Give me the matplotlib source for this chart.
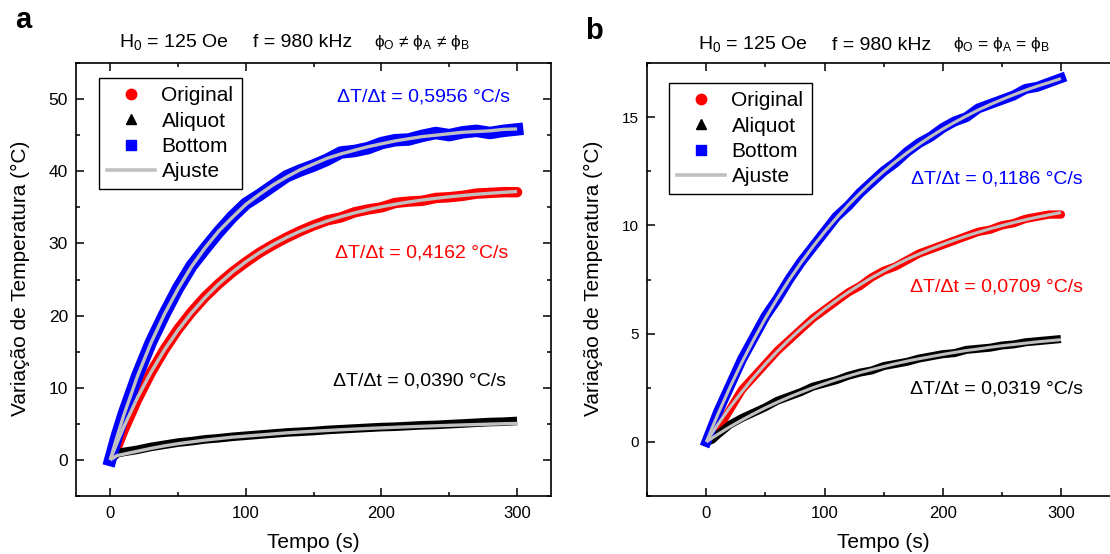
import matplotlib
matplotlib.use('Agg')
import matplotlib.pyplot as plt
from matplotlib.lines import Line2D
from matplotlib.ticker import MultipleLocator

# --- fonte ---
plt.rcParams['font.family'] = ['Liberation Sans', 'DejaVu Sans']
plt.rcParams['mathtext.fontset'] = 'custom'
plt.rcParams['mathtext.rm'] = 'Liberation Sans'
plt.rcParams['mathtext.it'] = 'Liberation Sans:italic'
plt.rcParams['mathtext.bf'] = 'Liberation Sans:bold'

# --- dados ---
tempo = [0, 5, 10, 20, 30, 40, 50, 60, 70, 80, 90, 100, 110, 120, 130, 140, 150,
         160, 170, 180, 190, 200, 210, 220, 230, 240, 250, 260, 270, 280, 290, 300]

# painel a: phi_O != phi_A != phi_B
a_original = [0, 1.8, 4.2, 8.4, 12.1, 15.3, 18.1, 20.5, 22.6, 24.4, 26.0, 27.4, 28.7, 29.8,
              30.8, 31.7, 32.5, 33.2, 33.6, 34.3, 34.7, 35.0, 35.6, 35.8, 35.9, 36.3, 36.4,
              36.6, 36.9, 37.0, 37.1, 37.1]
a_aliquot = [0, 0.9, 1.1, 1.4, 1.8, 2.1, 2.4, 2.6, 2.85, 3.0, 3.2, 3.35, 3.5, 3.65, 3.8, 3.9,
             4.0, 4.15, 4.25, 4.35, 4.45, 4.55, 4.6, 4.7, 4.8, 4.85, 4.95, 5.05, 5.15, 5.25,
             5.3, 5.4]
a_bottom = [0, 3.4, 6.4, 11.7, 16.3, 20.2, 23.8, 26.9, 29.3, 31.6, 33.7, 35.5, 36.7, 38.0,
            39.3, 40.1, 40.8, 41.6, 42.6, 42.8, 43.2, 43.9, 44.3, 44.4, 44.9, 45.3, 45.0,
            45.4, 45.6, 45.3, 45.6, 45.8]
a_fit_original = [0, 2.36, 4.57, 8.60, 12.13, 15.25, 17.98, 20.39, 22.51, 24.38, 26.01, 27.46,
                  28.72, 29.84, 30.82, 31.69, 32.45, 33.11, 33.70, 34.22, 34.68, 35.08, 35.43,
                  35.74, 36.01, 36.25, 36.46, 36.64, 36.81, 36.95, 37.08, 37.19]
a_fit_aliquot = [0, 0.6, 0.8, 1.2, 1.6, 1.95, 2.25, 2.5, 2.75, 2.95, 3.15, 3.3, 3.45, 3.6, 3.75,
                 3.87, 3.98, 4.08, 4.18, 4.27, 4.36, 4.44, 4.52, 4.59, 4.66, 4.73, 4.79, 4.85,
                 4.9, 4.96, 5.01, 5.06]
a_fit_bottom = [0, 3.2, 6.19, 11.56, 16.2, 20.2, 23.7, 26.8, 29.4, 31.7, 33.6, 35.4, 36.8, 38.1,
                39.2, 40.2, 41.0, 41.8, 42.4, 42.9, 43.4, 43.8, 44.2, 44.5, 44.8, 45.0, 45.2,
                45.4, 45.5, 45.6, 45.8, 45.86]

# painel b: phi_O = phi_A = phi_B
b_original = [0, 0.2, 0.6, 1.5, 2.4, 3.0, 3.6, 4.2, 4.7, 5.2, 5.7, 6.1, 6.5, 6.9, 7.2, 7.6,
              7.9, 8.1, 8.4, 8.7, 8.9, 9.1, 9.3, 9.5, 9.7, 9.8, 10.0, 10.1, 10.3, 10.4, 10.5,
              10.5]
b_aliquot = [0, 0.1, 0.35, 0.8, 1.1, 1.35, 1.6, 1.9, 2.1, 2.3, 2.55, 2.7, 2.85, 3.05, 3.2, 3.3,
             3.5, 3.6, 3.7, 3.85, 3.95, 4.05, 4.1, 4.25, 4.3, 4.35, 4.45, 4.5, 4.6, 4.65, 4.7,
             4.75]
b_bottom = [0, 0.7, 1.4, 2.6, 3.8, 4.8, 5.8, 6.6, 7.5, 8.3, 9.0, 9.7, 10.4, 10.9, 11.5, 12.0,
            12.5, 12.9, 13.4, 13.8, 14.1, 14.5, 14.8, 15.0, 15.4, 15.6, 15.8, 16.0, 16.3, 16.4,
            16.6, 16.8]
b_fit_original = [0, 0.42, 0.83, 1.60, 2.31, 2.98, 3.60, 4.18, 4.72, 5.22, 5.69, 6.13, 6.53,
                  6.91, 7.26, 7.59, 7.89, 8.17, 8.44, 8.68, 8.91, 9.12, 9.32, 9.51, 9.68, 9.84,
                  9.99, 10.13, 10.26, 10.38, 10.49, 10.59]
b_fit_aliquot = [0, 0.18, 0.36, 0.70, 1.01, 1.30, 1.58, 1.83, 2.07, 2.29, 2.50, 2.69, 2.87,
                 3.04, 3.20, 3.34, 3.48, 3.61, 3.73, 3.84, 3.94, 4.04, 4.13, 4.22, 4.29, 4.37,
                 4.44, 4.50, 4.56, 4.62, 4.67, 4.72]
b_fit_bottom = [0, 0.67, 1.31, 2.53, 3.67, 4.72, 5.71, 6.62, 7.48, 8.27, 9.01, 9.70, 10.34,
                10.94, 11.49, 12.01, 12.49, 12.94, 13.36, 13.75, 14.11, 14.45, 14.76, 15.05,
                15.33, 15.58, 15.81, 16.03, 16.24, 16.43, 16.60, 16.78]

a_taxas = ['0,4162', '0,0390', '0,5956']
b_taxas = ['0,0709', '0,0319', '0,1186']

nomes = ['Original', 'Aliquot', 'Bottom']
cores = ['#ff0000', '#000000', '#0000ff']
marcadores = ['o', '^', 's']
cinza = '#c0c0c0'

W, H = 1110, 554
fig = plt.figure(figsize=(W / 100, H / 100), dpi=100)


def fx(x):
    return x / W


def fy(y):
    return 1 - y / H


ax1 = fig.add_axes([fx(76.3), fy(496), (551 - 76.3) / W, (496 - 63) / H])
ax2 = fig.add_axes([fx(647.3), fy(496), (1120 - 647.3) / W, (496 - 63) / H])


def painel(ax, series, fits, larguras, lw_fit):
    for y, c, m, lw in zip(series, cores, marcadores, larguras):
        cap = {'o': 'round', '^': 'butt', 's': 'projecting'}[m]
        ax.plot(tempo, y, color=c, lw=lw, solid_capstyle=cap, solid_joinstyle='round',
                zorder=2)
    for f in fits:
        ax.plot(tempo, f, color=cinza, lw=lw_fit, zorder=3, solid_capstyle='butt')
    ax.tick_params(which='both', direction='in', top=True, right=True, width=1.1)
    ax.tick_params(which='major', length=5.5)
    ax.tick_params(which='minor', length=3)
    ax.tick_params(axis='x', labelsize=12, pad=7)
    ax.tick_params(axis='y', pad=6)
    for s in ax.spines.values():
        s.set_linewidth(1.2)
    ax.xaxis.set_major_locator(MultipleLocator(100))
    ax.xaxis.set_minor_locator(MultipleLocator(50))
    handles = [Line2D([], [], ls='none', marker=m, color=c, markersize=7.5)
               for c, m in zip(cores, marcadores)]
    handles.append(Line2D([], [], color=cinza, lw=2.6))
    return handles


def legenda(ax, handles, pos):
    leg = ax.legend(handles, nomes + ['Ajuste'], loc='upper left', bbox_to_anchor=pos,
                    fontsize=15, frameon=True, fancybox=False, edgecolor='black',
                    framealpha=1, labelspacing=0.3, handlelength=2.3, handletextpad=0.3,
                    borderpad=0.4, borderaxespad=0)
    leg.get_frame().set_linewidth(1.0)


h1 = painel(ax1, [a_original, a_aliquot, a_bottom],
            [a_fit_original, a_fit_aliquot, a_fit_bottom], [7.5, 6.2, 9.0], 2.4)
ax1.set_xlim(-25, 325)
ax1.set_ylim(-5, 55)
ax1.yaxis.set_major_locator(MultipleLocator(10))
ax1.yaxis.set_minor_locator(MultipleLocator(5))
ax1.tick_params(axis='y', labelsize=12.5)
legenda(ax1, h1, ((99 - 76.3) / 474.7, (496 - 78) / 433))

h2 = painel(ax2, [b_original, b_aliquot, b_bottom],
            [b_fit_original, b_fit_aliquot, b_fit_bottom], [6.0, 5.8, 7.2], 2.2)
ax2.set_xlim(-50, 350)
ax2.set_ylim(-2.5, 17.5)
ax2.yaxis.set_major_locator(MultipleLocator(5))
ax2.yaxis.set_minor_locator(MultipleLocator(2.5))
ax2.tick_params(axis='y', labelsize=11)
legenda(ax2, h2, ((669 - 647.3) / 472.7, (496 - 83) / 433))

# --- anotações ---
rotulo = 'ΔT/Δt = {} °C/s'
for (x, y), t, c in zip([(335, 258), (333, 385), (337, 102)], a_taxas, cores):
    fig.text(fx(x), fy(y), rotulo.format(t), color=c, fontsize=14, va='baseline', ha='left')
for (x, y), t, c in zip([(910, 291), (910, 394), (911, 183)], b_taxas, cores):
    fig.text(fx(x), fy(y), rotulo.format(t), color=c, fontsize=14, va='baseline', ha='left')

# --- títulos ---
for x0, yb, fi in [(119, 47, 'ϕ$_\\mathrm{O}$ ≠ ϕ$_\\mathrm{A}$ ≠ ϕ$_\\mathrm{B}$'),
                   (698, 49.5, 'ϕ$_\\mathrm{O}$ = ϕ$_\\mathrm{A}$ = ϕ$_\\mathrm{B}$')]:
    fig.text(fx(x0), fy(yb), r'H$_0$ = 125 Oe', fontsize=14, va='baseline')
    fig.text(fx(x0 + 134), fy(yb), 'f = 980 kHz', fontsize=14, va='baseline')
    fig.text(fx(x0 + 255), fy(yb), fi, fontsize=12.5, va='baseline')

fig.text(fx(15), fy(28.5), 'a', fontsize=21, fontweight='bold', va='baseline')
fig.text(fx(585), fy(39), 'b', fontsize=21, fontweight='bold', va='baseline')

# --- rótulos dos eixos ---
for xc in [(76.3 + 551) / 2, (647.3 + 1120) / 2]:
    fig.text(fx(xc), fy(548), 'Tempo (s)', fontsize=15, ha='center', va='baseline')
for xc in [20, 593.5]:
    fig.text(fx(xc), fy(278), 'Variação de Temperatura (°C)', rotation=90, fontsize=15,
             ha='center', va='center')

fig.savefig('out.png', dpi=100)
